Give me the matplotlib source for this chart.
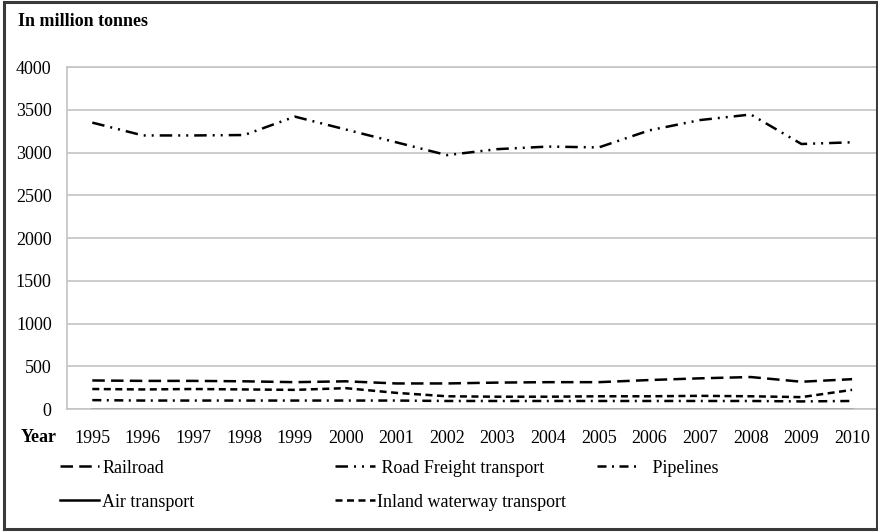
#!/usr/bin/env python3
"""Freight transport volumes by mode, 1995-2010."""

import matplotlib

matplotlib.use("Agg")
import matplotlib.pyplot as plt
from matplotlib.patches import Rectangle

YEARS = [str(y) for y in range(1995, 2011)]
RAILROAD = [335, 330, 330, 325, 315, 325, 300, 300, 310, 315, 315, 340, 360, 375, 320, 350]
ROAD = [3350, 3200, 3200, 3205, 3420, 3270, 3120, 2970, 3040, 3070, 3060, 3260, 3380, 3445, 3100, 3120]
PIPELINES = [105, 100, 100, 100, 100, 100, 100, 95, 95, 95, 95, 95, 95, 95, 90, 95]
AIR = [5, 5, 5, 5, 5, 5, 5, 5, 5, 5, 5, 5, 5, 5, 5, 5]
INLAND = [235, 230, 235, 230, 225, 245, 190, 150, 145, 145, 150, 150, 155, 150, 140, 225]

plt.rcParams["font.family"] = ["Liberation Serif", "DejaVu Serif"]
FS = 13

fig = plt.figure(figsize=(8.79, 5.32), dpi=100)
ax = fig.add_axes([0.0762, 0.231, 0.922, 0.643])

x = list(range(len(YEARS)))
lw = 1.8
styles = {
    "Railroad": dict(dashes=(5, 2.5)),
    "Air transport": dict(),
    "Road Freight transport": dict(dashes=(5, 2.4, 0.8, 2.4, 0.8, 2.4)),
    "Inland waterway transport": dict(dashes=(2.8, 1.8)),
    "Pipelines": dict(dashes=(3.6, 2.2, 0.8, 2.2)),
}
series = {
    "Railroad": RAILROAD,
    "Air transport": AIR,
    "Road Freight transport": ROAD,
    "Inland waterway transport": INLAND,
    "Pipelines": PIPELINES,
}
lines = {}
for name, values in series.items():
    (lines[name],) = ax.plot(x, values, color="black", lw=lw, label=name, **styles[name])

ax.set_xlim(-0.5, len(YEARS) - 0.5)
ax.set_ylim(0, 4000)
ax.set_yticks(range(0, 4001, 500))
ax.set_xticks(x)
ax.set_xticklabels(YEARS)
ax.tick_params(axis="both", length=0, labelsize=FS)
ax.tick_params(axis="y", pad=11)
ax.tick_params(axis="x", pad=15)
ax.grid(axis="y", color="#c4c4c4", lw=1.2)
ax.set_axisbelow(True)
for side in ["left", "top", "right", "bottom"]:
    ax.spines[side].set_color("#c4c4c4")
    ax.spines[side].set_linewidth(1.2)

fig.text(0.02, 0.96, "In million tonnes", fontsize=FS, fontweight="bold", va="center")
fig.text(0.023, 0.178, "Year", fontsize=FS, fontweight="bold", va="center")

# three legend columns placed by hand, as in the source
columns = [
    (0.068, ["Railroad", "Air transport"], ["Railroad", "Air transport"]),
    (0.381, ["Road Freight transport", "Inland waterway transport"],
     [" Road Freight transport", "Inland waterway transport"]),
    (0.679, ["Pipelines"], ["   Pipelines"]),
]
for xpos, names, texts in columns:
    fig.legend(
        [lines[n] for n in names],
        texts,
        loc="upper left",
        bbox_to_anchor=(xpos, 0.136),
        frameon=False,
        fontsize=FS,
        handlelength=2.2,
        handletextpad=0.15,
        labelspacing=0.95,
        borderpad=0,
        borderaxespad=0,
    )

fig.patches.append(
    Rectangle((0.004, 0.006), 0.994, 0.99, transform=fig.transFigure,
              fill=False, edgecolor="#3a3a3a", lw=2.2)
)

fig.savefig("out.png", dpi=100)
plt.close(fig)
